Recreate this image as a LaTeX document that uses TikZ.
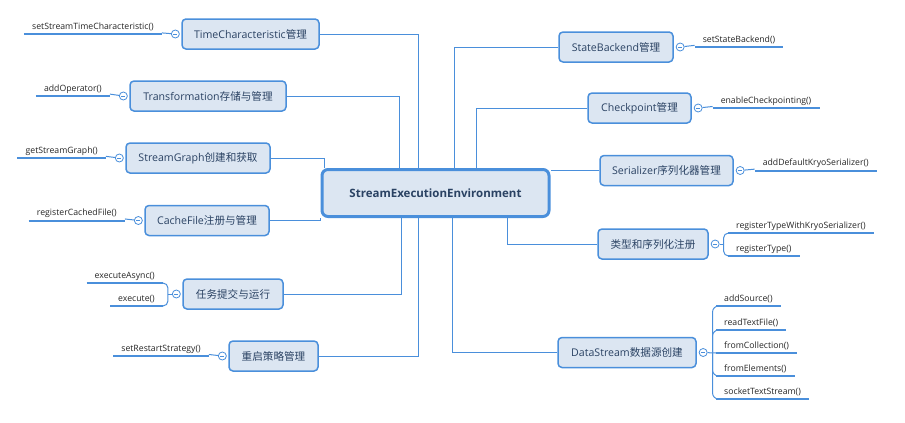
\documentclass[tikz,border=0pt]{standalone}
\usepackage{fontspec}
\setmainfont{Open Sans}
\newfontfamily\cjk{Noto Sans CJK SC}
\usetikzlibrary{positioning,calc}
\definecolor{mapblue}{HTML}{4A8FDB}
\definecolor{mapfill}{HTML}{DCE6F2}
\definecolor{maptext}{HTML}{2A4263}

\begin{document}
\begin{tikzpicture}[x=1pt,y=-1pt,
  topic/.style={draw=mapblue,line width=1.5pt,fill=mapfill,rounded corners=4pt,minimum height=30pt,inner xsep=0pt,font=\fontsize{10.6}{12}\selectfont,text=maptext},
  root/.style={topic,line width=3pt,rounded corners=6pt,minimum height=47pt,font=\fontsize{11.5}{13}\selectfont\bfseries},
  fold/.style={circle,draw=mapblue,fill=white,line width=0.8pt,minimum size=8pt,inner sep=0pt,
    path picture={\draw[mapblue,line width=0.6pt] ([xshift=-2pt]path picture bounding box.center) -- ([xshift=2pt]path picture bounding box.center);}},
  leaf/.style={font=\fontsize{8.7}{10}\selectfont,text=black!85,inner xsep=8pt,inner ysep=2.5pt},
  branch/.style={mapblue,line width=1pt},
  stem/.style={mapblue,line width=2pt}]
\useasboundingbox (0,0) rectangle (905,423);

\node[root,minimum width=227pt] (env) at (435.5,193) {StreamExecutionEnvironment};

\node[topic,minimum width=137pt] (tc) at (250.5,34) {TimeCharacteristic{\cjk 管理}};
\node[topic,minimum width=156pt] (trans) at (208,96) {Transformation{\cjk 存储与管理}};
\node[topic,minimum width=144pt] (sg) at (198,158) {StreamGraph{\cjk 创建和获取}};
\node[topic,minimum width=124pt] (cache) at (207,220.5) {CacheFile{\cjk 注册与管理}};
\node[topic,minimum width=100pt] (job) at (233,294) {\cjk 任务提交与运行};
\node[topic,minimum width=89pt] (restart) at (273.5,356) {\cjk 重启策略管理};
\node[topic,minimum width=114pt] (sb) at (616,47) {StateBackend{\cjk 管理}};
\node[topic,minimum width=103pt] (cp) at (639.5,108) {Checkpoint{\cjk 管理}};
\node[topic,minimum width=133pt] (ser) at (666.5,170.5) {Serializer{\cjk 序列化器管理}};
\node[topic,minimum width=110pt] (type) at (653,244) {\cjk 类型和序列化注册};
\node[topic,minimum width=138pt] (ds) at (627,352.5) {DataStream{\cjk 数据源创建}};

\draw[branch] (tc.east) -| ($(env.north)+(-17,0)$);
\draw[branch] (trans.east) -| ($(env.north)+(-36,0)$);
\draw[branch] (sg.east) -| ($(env.north west)+(4,0)$);
\draw[branch] (cache.east) -| (env.south west);
\draw[branch] (job.east) -| ($(env.south)+(-34,0)$);
\draw[branch] (restart.east) -| ($(env.south)+(-17,0)$);
\draw[branch] (sb.west) -| ($(env.north)+(19,0)$);
\draw[branch] (cp.west) -| ($(env.north)+(41,0)$);
\draw[branch] (ser.west) -- (ser.west -| env.east);
\draw[branch] (type.west) -| ($(env.south)+(72,0)$);
\draw[branch] (ds.west) -| ($(env.south)+(17,0)$);

\node[fold,left=1.5pt of tc] (tcf) {};
\node[fold,left=1.5pt of trans] (transf) {};
\node[fold,left=1.5pt of sg] (sgf) {};
\node[fold,left=1.5pt of cache] (cachef) {};
\node[fold,left=1.5pt of job] (jobf) {};
\node[fold,left=1.5pt of restart] (restartf) {};
\node[fold,right=2pt of sb] (sbf) {};
\node[fold,right=2pt of cp] (cpf) {};
\node[fold,right=2pt of ser] (serf) {};
\node[fold,right=2pt of type] (typef) {};
\node[fold,right=2pt of ds] (dsf) {};

\node[leaf,anchor=south east] (tcl) at ([xshift=-9pt]tcf.west) {setStreamTimeCharacteristic()};
\node[leaf,anchor=south east] (transl) at ([xshift=-9pt]transf.west) {addOperator()};
\node[leaf,anchor=south east] (sgl) at ([xshift=-9pt]sgf.west) {getStreamGraph()};
\node[leaf,anchor=south east] (cachel) at ([xshift=-9pt]cachef.west) {registerCachedFile()};
\node[leaf,anchor=south east] (restartl) at ([xshift=-9pt]restartf.west) {setRestartStrategy()};
\node[leaf,anchor=south west] (sbl) at ([xshift=10pt]sbf.east) {setStateBackend()};
\node[leaf,anchor=south west] (cpl) at ([xshift=10pt]cpf.east) {enableCheckpointing()};
\node[leaf,anchor=south west] (serl) at ([xshift=10pt]serf.east) {addDefaultKryoSerializer()};
\foreach \n in {tc,trans,sg,cache,restart,sb,cp,ser}
  \draw[branch] (\n f) -- (\n l);

\coordinate[left=4pt of jobf.west] (jobj);
\node[leaf,anchor=south east] (jobl1) at (163,283) {executeAsync()};
\node[leaf,anchor=south east] (jobl2) at (163,306) {execute()};
\draw[branch] (jobf) -- (jobj);
\foreach \n in {jobl1,jobl2}
  \draw[branch,rounded corners=5pt] (jobj) |- (\n.south east);

\coordinate[right=4pt of typef.east] (typej);
\node[leaf,anchor=south west] (typel1) at (728,233) {registerTypeWithKryoSerializer()};
\node[leaf,anchor=south west] (typel2) at (728,256) {registerType()};
\draw[branch] (typef) -- (typej);
\foreach \n in {typel1,typel2}
  \draw[branch,rounded corners=5pt] (typej) |- (\n.south west);

\coordinate[right=5pt of dsf.east] (dsj);
\node[leaf,anchor=south west] (dsl1) at (716,306) {addSource()};
\node[leaf,anchor=south west] (dsl2) at (716,330) {readTextFile()};
\node[leaf,anchor=south west] (dsl3) at (716,353) {fromCollection()};
\node[leaf,anchor=south west] (dsl4) at (716,376) {fromElements()};
\node[leaf,anchor=south west] (dsl5) at (716,399) {socketTextStream()};
\draw[branch] (dsf) -- (dsl3.south west);
\foreach \n in {dsl1,dsl2,dsl4,dsl5}
  \draw[branch,rounded corners=6pt] (dsj) |- (\n.south west);

\foreach \n in {tcl,transl,sgl,cachel,restartl,sbl,cpl,serl,jobl1,jobl2,typel1,typel2,dsl1,dsl2,dsl3,dsl4,dsl5}
  \draw[stem] (\n.south west) -- (\n.south east);
\end{tikzpicture}
\end{document}
